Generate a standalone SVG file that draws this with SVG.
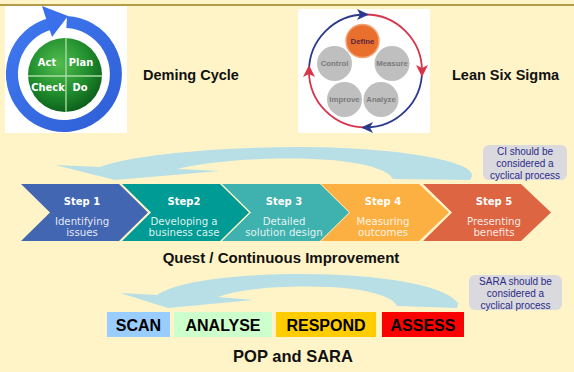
<svg xmlns="http://www.w3.org/2000/svg" width="574" height="372" viewBox="0 0 574 372">
  <defs>
    <radialGradient id="greenBall" cx="42%" cy="35%" r="70%">
      <stop offset="0" stop-color="#52BC4E"/>
      <stop offset="0.55" stop-color="#22902F"/>
      <stop offset="1" stop-color="#0A5A18"/>
    </radialGradient>
    <linearGradient id="blueRing" x1="0" y1="0" x2="1" y2="1">
      <stop offset="0" stop-color="#3F78F0"/>
      <stop offset="1" stop-color="#2F5FD6"/>
    </linearGradient>
  </defs>
  <style>
    .title { font-family: "Liberation Sans", Arial, sans-serif; font-weight: bold; fill: #111; }
    .pdca { font-family: "DejaVu Sans Condensed", "Liberation Sans Narrow", "DejaVu Sans", sans-serif; font-stretch: condensed; font-weight: bold; font-size: 11px; fill: #fff; text-anchor: middle; }
    .dmaic { font-family: "Liberation Sans", Arial, sans-serif; font-weight: bold; font-size: 7.8px; fill: #7A7A7A; text-anchor: middle; }
    .grey { fill: #BFBFBF; }
    .step-head { font-family: "DejaVu Sans", Verdana, sans-serif; font-weight: bold; font-size: 10px; fill: #fff; text-anchor: middle; }
    .step-sub { font-family: "DejaVu Sans", Verdana, sans-serif; font-size: 10.2px; fill: #fff; fill-opacity: 0.88; text-anchor: middle; }
    .note { fill: #D9D9DE; }
    .note-text { font-family: "Liberation Sans", Arial, sans-serif; font-size: 10px; fill: #2B2B86; text-anchor: middle; }
    .sara { font-family: "Liberation Sans", Arial, sans-serif; font-weight: bold; font-size: 16px; fill: #000; text-anchor: middle; }
    .cycle { fill: #B9DFE6; }
  </style>

  <!-- page background and header rule -->
  <rect width="574" height="372" fill="#FFF4C8"/>
  <rect x="0" y="4" width="574" height="2" fill="#B59B45"/>

  <!-- Deming cycle picture -->
  <g id="deming-image">
    <rect x="5" y="6" width="122" height="127" fill="#fff"/>
    <path d="M66.7,22.1 A52,52 0 1 1 49.7,24" fill="none" stroke="url(#blueRing)" stroke-width="12"/>
    <polygon points="42,6 68,16 52,37" fill="#3A70EC"/>
    <circle cx="65" cy="75" r="37" fill="url(#greenBall)"/>
    <line x1="66" y1="38" x2="66" y2="112" stroke="#A8DCA0" stroke-width="1.4"/>
    <line x1="28" y1="76" x2="102" y2="76" stroke="#A8DCA0" stroke-width="1.4"/>
    <text class="pdca" x="47" y="66">Act</text>
    <text class="pdca" x="81" y="66">Plan</text>
    <text class="pdca" x="48" y="91">Check</text>
    <text class="pdca" x="80" y="91">Do</text>
  </g>
  <g id="deming-label">
    <text class="title" x="143" y="80" font-size="14.5">Deming Cycle</text>
  </g>

  <!-- Lean Six Sigma picture -->
  <g id="lean-image">
    <rect x="298" y="9" width="132" height="124" fill="#fff"/>
    <g fill="none" stroke-width="1.8">
      <path d="M309,71 A56.5,56.5 0 0 1 365.5,14.5" stroke="#2B3A8C"/>
      <path d="M365.5,14.5 A56.5,56.5 0 0 1 422,71" stroke="#D8344A"/>
      <path d="M422,71 A56.5,56.5 0 0 1 365.5,127.5" stroke="#2B3A8C"/>
      <path d="M365.5,127.5 A56.5,56.5 0 0 1 309,71" stroke="#D8344A"/>
    </g>
    <polygon points="369,14.5 357,9 360,14.5 357,20" fill="#2B3A8C"/>
    <polygon points="422,77 416,65 422,68 428,65" fill="#D8344A"/>
    <polygon points="361,127.5 373,122 370,127.5 373,133" fill="#2B3A8C"/>
    <polygon points="309,65 303,77 309,74 315,77" fill="#D8344A"/>
    <circle cx="362.5" cy="41" r="16.5" fill="#E8702C" stroke="#F4A274" stroke-width="1.5"/>
    <text class="dmaic" x="362.5" y="43.5" font-size="7.5" fill="#5B2340" style="fill:#5B2340">Define</text>
    <circle class="grey" cx="334.5" cy="63.5" r="17.5"/>
    <text class="dmaic" x="334.5" y="66">Control</text>
    <circle class="grey" cx="392" cy="63.5" r="17.5"/>
    <text class="dmaic" x="392" y="66">Measure</text>
    <circle class="grey" cx="344.5" cy="99.5" r="17.5"/>
    <text class="dmaic" x="344.5" y="102">Improve</text>
    <circle class="grey" cx="381" cy="99.5" r="17.5"/>
    <text class="dmaic" x="381" y="102">Analyze</text>
  </g>
  <g id="lean-label">
    <text class="title" x="452" y="80" font-size="14.5">Lean Six Sigma</text>
  </g>

  <!-- cycle arrows -->
  <g id="connectors">
    <path class="cycle" d="M55,165 L100,167 C130,155 220,147 300,147 C390,147 475,160 472,176 L470,180 L393,179 C389,172 375,165 340,161 C300,157 230,157 177,169 L220,171 L115,180 Z"/>
    <path class="cycle" d="M120,293 L157,295 C175,282 230,274 300,274 C380,274 445,285 458,303 L457,308 L397,306 C393,297 370,289 330,287 C280,285 240,289 218,297 L253,300 L168,308 Z"/>
  </g>

  <!-- improvement steps -->
  <g id="step1">
    <polygon points="21,184 119,184 148,212.5 119,241 21,241 50,212.5" fill="#4266B2"/>
    <text class="step-head" x="82" y="205">Step 1</text>
    <text class="step-sub" x="82" y="225">Identifying</text>
    <text class="step-sub" x="82" y="236">issues</text>
  </g>
  <g id="step2">
    <polygon points="122,184 220,184 249,212.5 220,241 122,241 151,212.5" fill="#009B95"/>
    <text class="step-head" x="184" y="205">Step2</text>
    <text class="step-sub" x="184" y="225">Developing a</text>
    <text class="step-sub" x="184" y="236">business case</text>
  </g>
  <g id="step3">
    <polygon points="222,184 320,184 349,212.5 320,241 222,241 251,212.5" fill="#3FB1AE"/>
    <text class="step-head" x="284" y="205">Step 3</text>
    <text class="step-sub" x="284" y="225">Detailed</text>
    <text class="step-sub" x="284" y="236">solution design</text>
  </g>
  <g id="step4">
    <polygon points="321,184 419,184 449,212.5 419,241 321,241 350,212.5" fill="#FDB042"/>
    <text class="step-head" x="383" y="205">Step 4</text>
    <text class="step-sub" x="383" y="225">Measuring</text>
    <text class="step-sub" x="383" y="236">outcomes</text>
  </g>
  <g id="step5">
    <polygon points="423,184 521,184 551,212.5 521,241 423,241 452,212.5" fill="#DD6541"/>
    <text class="step-head" x="494" y="205">Step 5</text>
    <text class="step-sub" x="494" y="225">Presenting</text>
    <text class="step-sub" x="494" y="236">benefits</text>
  </g>

  <g id="ci-note">
    <rect class="note" x="483" y="145" width="84" height="35" rx="6"/>
    <text class="note-text" x="525" y="155">CI should be</text>
    <text class="note-text" x="525" y="167">considered a</text>
    <text class="note-text" x="525" y="178.5">cyclical process</text>
  </g>

  <g id="quest-label">
    <text class="title" x="281" y="263" font-size="15" text-anchor="middle">Quest / Continuous Improvement</text>
  </g>

  <!-- SARA stages -->
  <g id="scan">
    <rect x="107" y="312" width="63" height="25" fill="#99CCFF"/>
    <text class="sara" x="138.5" y="331">SCAN</text>
  </g>
  <g id="analyse">
    <rect x="174" y="312" width="98" height="25" fill="#CCFFCC"/>
    <text class="sara" x="223" y="331">ANALYSE</text>
  </g>
  <g id="respond">
    <rect x="276" y="312" width="100" height="25" fill="#FFCC00"/>
    <text class="sara" x="326" y="331">RESPOND</text>
  </g>
  <g id="assess">
    <rect x="382" y="312" width="82" height="25" fill="#FF0000"/>
    <text class="sara" x="423" y="331">ASSESS</text>
  </g>

  <g id="sara-note">
    <rect class="note" x="469" y="275" width="93" height="35" rx="6"/>
    <text class="note-text" x="515.5" y="285">SARA should be</text>
    <text class="note-text" x="515.5" y="297">considered a</text>
    <text class="note-text" x="515.5" y="308.5">cyclical process</text>
  </g>

  <g id="pop-label">
    <text class="title" x="293" y="362" font-size="16.5" text-anchor="middle">POP and SARA</text>
  </g>
</svg>
